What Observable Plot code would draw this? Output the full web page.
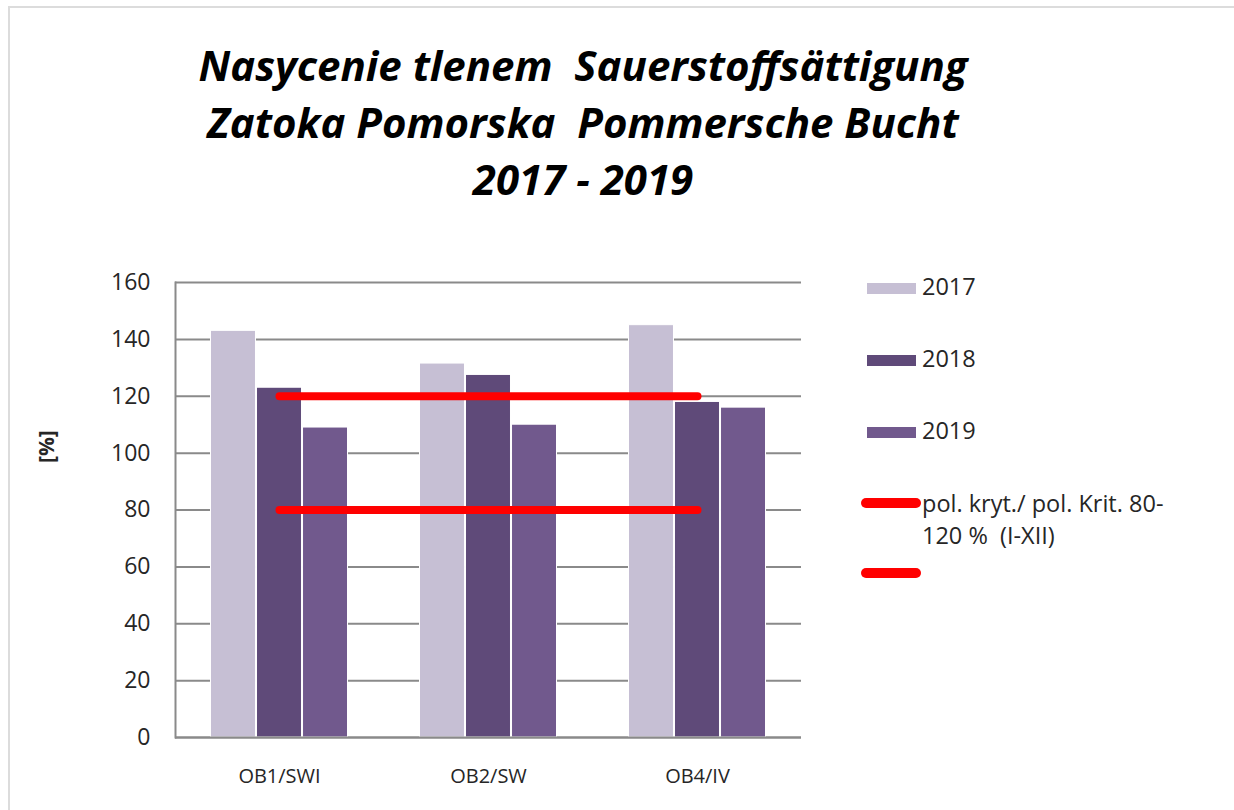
<!DOCTYPE html>
<html>
<head>
<meta charset="utf-8">
<script src="https://cdn.jsdelivr.net/npm/d3@7"></script>
<script src="https://cdn.jsdelivr.net/npm/@observablehq/plot@0.6"></script>
<style>
  html, body { margin: 0; padding: 0; background: #fff; overflow: hidden; }
  #wrap { position: relative; width: 1234px; height: 810px; overflow: hidden; font-family: "Open Sans", sans-serif; color: #262626; }
  #border { position: absolute; left: 8px; top: 6px; width: 2000px; height: 2000px; border-top: 2px solid #dcdcdc; border-left: 2px solid #dcdcdc; }
  #title { position: absolute; left: 0; top: 36px; width: 1166px; text-align: center; font-weight: bold; font-style: italic; font-size: 42px; line-height: 57px; color: #000; }
  #title div { white-space: pre; }
  #chart { position: absolute; left: 0; top: 230px; }
  #legend { position: absolute; left: 860px; top: 270px; font-size: 23.5px; color: #262626; }
  .item { position: absolute; left: 0; white-space: nowrap; }
  .sw { position: absolute; }
  .txt { position: absolute; left: 62px; line-height: 32px; }
</style>
</head>
<body>
<div id="wrap">
  <div id="border"></div>
  <div id="title"></div>
  <div id="chart"></div>
  <div id="legend"></div>
</div>
<script>
// ---- data ----
const titleLines = ["Nasycenie tlenem  Sauerstoffsättigung", "Zatoka Pomorska  Pommersche Bucht", "2017 - 2019"];
const categories = ["OB1/SWI", "OB2/SW", "OB4/IV"];
const years = ["2017", "2018", "2019"];
const values2017 = [143, 131.5, 145];
const values2018 = [123, 127.5, 118];
const values2019 = [109, 110, 116];
const critLow = [80, 80, 80];
const critHigh = [120, 120, 120];
const yTicks = [0, 20, 40, 60, 80, 100, 120, 140, 160];
const yLabel = "[%]";
const critLabel = "pol. kryt./ pol. Krit. 80-\n120 %  (I-XII)";
const colors = ["#c6bfd4", "#5f4a79", "#71598d"];
const critColor = "#ff0000";

// ---- title ----
const titleEl = document.getElementById("title");
titleLines.forEach((t) => {
  const d = document.createElement("div");
  d.textContent = t;
  titleEl.appendChild(d);
});

// ---- chart ----
const W = 1234, H = 580;
const mL = 175, mR = 433, mT = 52, mB = 73;
const padIn = 0.342, padOut = 0.163;
const step = (W - mL - mR) / (categories.length - padIn + 2 * padOut);
const bw = step * (1 - padIn);
const sub = bw / years.length;

const rows = (vals) => categories.map((c, i) => ({cat: c, v: vals[i]}));
const series = [values2017, values2018, values2019];

const barMarks = series.map((vals, k) => Plot.barY(rows(vals), {
  x: "cat", y: "v", fill: colors[k], stroke: "#fff", strokeWidth: 1,
  insetLeft: k * sub + 0.5, insetRight: (years.length - 1 - k) * sub + 0.5
}));

const chart = Plot.plot({
  width: W, height: H,
  marginLeft: mL, marginRight: mR, marginTop: mT, marginBottom: mB,
  style: {fontFamily: "Open Sans, sans-serif", fontSize: "20px", color: "#262626", background: "transparent"},
  x: {domain: categories, paddingInner: padIn, paddingOuter: padOut, label: null},
  y: {domain: [0, 160], label: null},
  marks: [
    Plot.gridY(yTicks, {stroke: "#8a8a8a", strokeOpacity: 1, strokeWidth: 2}),
    Plot.axisY(yTicks, {tickSize: 0, tickPadding: 25, fontSize: 23, label: null}),
    Plot.axisX({tickSize: 0, tickPadding: 31, fontSize: 20, label: null}),
    Plot.text([yLabel], {frameAnchor: "left", rotate: -90, dx: -128, dy: -47, fontSize: 21, fontWeight: "bold", fill: "#262626"}),
    ...barMarks,
    Plot.frame({anchor: "left", stroke: "#8a8a8a", strokeWidth: 2}),
    Plot.ruleY([0], {stroke: "#8a8a8a", strokeWidth: 2}),
    Plot.lineY(rows(critHigh), {x: "cat", y: "v", stroke: critColor, strokeWidth: 8, strokeLinecap: "round"}),
    Plot.lineY(rows(critLow), {x: "cat", y: "v", stroke: critColor, strokeWidth: 8, strokeLinecap: "round"})
  ]
});
document.getElementById("chart").appendChild(chart);

// ---- legend ----
const legend = document.getElementById("legend");
const legendItems = [
  {label: years[0], color: colors[0], kind: "bar"},
  {label: years[1], color: colors[1], kind: "bar"},
  {label: years[2], color: colors[2], kind: "bar"},
  {label: critLabel, color: critColor, kind: "line"},
  {label: "", color: critColor, kind: "line"}
];
const legendTops = [0, 72, 144, 217, 287];
legendItems.forEach((it, i) => {
  const row = document.createElement("div");
  row.className = "item";
  row.style.top = legendTops[i] + "px";
  const sw = document.createElement("div");
  sw.className = "sw";
  if (it.kind === "bar") {
    Object.assign(sw.style, {left: "6px", top: "12px", width: "49px", height: "11px", background: it.color, border: "1px solid #fff"});
  } else {
    Object.assign(sw.style, {left: "1px", top: "11px", width: "60px", height: "10px", background: it.color, borderRadius: "5px"});
  }
  row.appendChild(sw);
  const tx = document.createElement("div");
  tx.className = "txt";
  tx.style.whiteSpace = "pre";
  tx.textContent = it.label;
  row.appendChild(tx);
  legend.appendChild(row);
});
</script>
</body>
</html>
